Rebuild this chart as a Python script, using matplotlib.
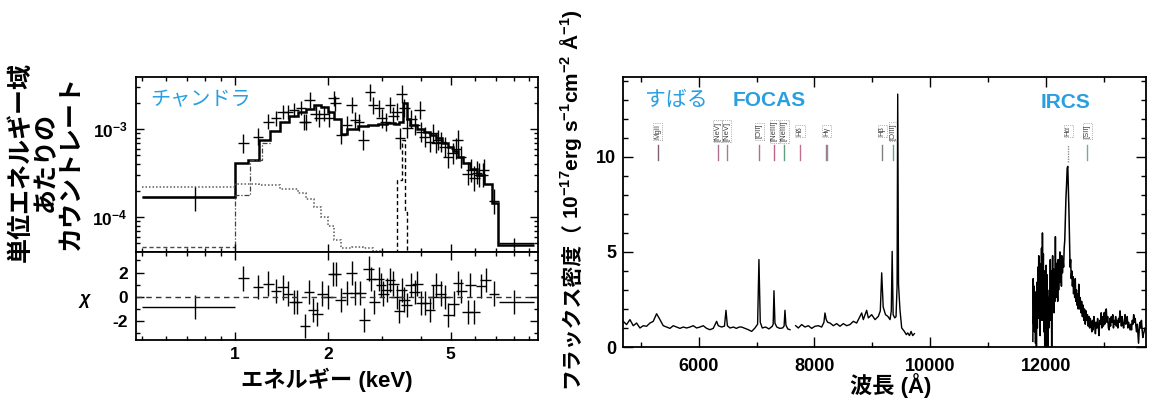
import numpy as np
import matplotlib
matplotlib.use('Agg')
import matplotlib.pyplot as plt
from matplotlib.ticker import FixedLocator, NullFormatter, MultipleLocator, LogLocator

plt.rcParams['font.family'] = ['Liberation Sans', 'Noto Sans CJK JP', 'DejaVu Sans']
plt.rcParams['font.weight'] = 'bold'
plt.rcParams['mathtext.fontset'] = 'custom'
plt.rcParams['mathtext.rm'] = 'Liberation Sans:bold'
plt.rcParams['mathtext.bf'] = 'Liberation Sans:bold'
plt.rcParams['mathtext.it'] = 'Liberation Sans:bold:italic'
plt.rcParams['axes.unicode_minus'] = False

BLUE = '#2a9fe0'

# --- X線スペクトル (チャンドラ) ---
e_data = [1.066, 1.186, 1.283, 1.358, 1.427, 1.488, 1.555, 1.635, 1.675, 1.695,
          1.746, 1.826, 1.872, 1.943, 2.016, 2.09, 2.118, 2.21, 2.31, 2.39,
          2.45, 2.52, 2.61, 2.74, 2.80, 2.93, 2.99, 3.08, 3.18, 3.26,
          3.34, 3.43, 3.47, 3.54, 3.62, 3.73, 3.82, 3.97, 4.02, 4.12,
          4.28, 4.39, 4.50, 4.55, 4.66, 4.78, 4.90, 5.08, 5.21, 5.27,
          5.40, 5.68, 5.84, 5.97, 6.1, 6.20, 6.35, 6.41, 6.9]
rate_data = [6.9e-4, 8.2e-4, 1.21e-3, 1.32e-3, 1.57e-3, 1.57e-3, 1.65e-3, 1.75e-3, 1.2e-3, 1.21e-3,
             2.14e-3, 1.5e-3, 1.32e-3, 1.5e-3, 1.32e-3, 2.23e-3, 1.96e-3, 8.55e-4, 1.11e-3, 1.87e-3,
             1.27e-3, 1.2e-3, 7.5e-4, 2.6e-3, 1.87e-3, 1.72e-3, 1.32e-3, 1.2e-3, 1.87e-3, 1.4e-3,
             1.57e-3, 7.8e-4, 2.5e-3, 1.72e-3, 1.02e-3, 1.3e-3, 1.1e-3, 1.64e-3, 9.3e-4, 8.2e-4,
             7.2e-4, 8.9e-4, 7e-4, 7.5e-4, 7.2e-4, 6.3e-4, 4.85e-4, 5.3e-4, 6.0e-4, 7.5e-4,
             4.85e-4, 3.1e-4, 3.4e-4, 2.75e-4, 3.2e-4, 3.0e-4, 3.0e-4, 3.4e-4, 1.5e-4]
rate_frac = [0.28, 0.26, 0.22, 0.22, 0.2, 0.2, 0.2, 0.2, 0.24, 0.24,
             0.22, 0.22, 0.24, 0.22, 0.24, 0.22, 0.22, 0.28, 0.25, 0.22,
             0.24, 0.25, 0.3, 0.25, 0.25, 0.25, 0.27, 0.28, 0.24, 0.26,
             0.25, 0.3, 0.28, 0.26, 0.3, 0.28, 0.3, 0.26, 0.3, 0.3,
             0.3, 0.28, 0.3, 0.3, 0.3, 0.3, 0.33, 0.32, 0.3, 0.3,
             0.33, 0.35, 0.35, 0.38, 0.35, 0.36, 0.36, 0.35, 0.4]

# 幅の広いビン (最初と最後)
wide_e = [0.745, 8.0]
wide_lo = [0.5, 7.2]
wide_hi = [1.0, 9.3]
wide_rate = [1.69e-4, 5.1e-5]
wide_rate_lo = [1.17e-4, 4.4e-5]
wide_rate_hi = [2.2e-4, 5.8e-5]
wide_chi = [-0.83, -0.41]

# モデル (全体)
model_edges = [0.5, 1.0, 1.1, 1.2, 1.3, 1.4, 1.5, 1.6, 1.7, 1.8, 1.9, 2.0, 2.1, 2.2, 2.3,
               2.5, 2.7, 2.9, 3.1, 3.3, 3.4, 3.5, 3.6, 3.7, 3.9, 4.1, 4.3, 4.5, 4.7,
               4.9, 5.1, 5.3, 5.5, 5.8, 6.1, 6.4, 6.8, 7.1, 9.3]
model_vals = [1.69e-4, 4.1e-4, 4.5e-4, 7.5e-4, 9.5e-4, 1.2e-3, 1.4e-3, 1.55e-3, 1.7e-3, 1.85e-3,
              1.8e-3, 1.55e-3, 1.3e-3, 8.8e-4, 1.0e-3, 1.08e-3, 1.12e-3, 1.15e-3, 1.17e-3, 1.15e-3,
              1.2e-3, 1.95e-3, 1.3e-3, 1.1e-3, 1.0e-3, 9.2e-4, 8.5e-4, 7.8e-4, 7.0e-4, 6.3e-4,
              5.6e-4, 4.8e-4, 4.1e-4, 3.5e-4, 3.0e-4, 2.4e-4, 1.45e-4, 4.8e-5]
# 軟成分 (点線)
soft_edges = [0.5, 1.0, 1.2, 1.4, 1.6, 1.7, 1.8, 1.9, 2.0, 2.1, 2.2, 2.4, 2.6, 2.8, 3.0]
soft_vals = [2.2e-4, 2.37e-4, 2.3e-4, 2.1e-4, 1.86e-4, 1.6e-4, 1.3e-4, 1.0e-4, 7.8e-5,
             5.5e-5, 4.4e-5, 4.6e-5, 4.4e-5, 4.1e-5]
# 硬成分 (一点鎖線)
hard_edges = [0.5, 1.0, 1.12, 1.22, 1.32]
hard_vals = [3e-5, 1.78e-4, 4.45e-4, 7e-4]
# 低いレベル (破線)
low_edges = [0.5, 1.0]
low_vals = [4.5e-5]
# 鉄輝線 (破線)
fe_edges = [3.1, 3.36, 3.47, 3.55, 3.62, 3.9]
fe_vals = [2e-5, 2.6e-4, 7.5e-4, 1.15e-4, 2e-5]

# 残差
e_chi = [1.066, 1.186, 1.283, 1.358, 1.427, 1.488, 1.555, 1.59, 1.686, 1.738,
         1.79, 1.85, 1.92, 2.0, 2.08, 2.12, 2.2, 2.31, 2.39, 2.45,
         2.55, 2.63, 2.71, 2.76, 2.83, 2.92, 2.97, 3.03, 3.10, 3.18,
         3.26, 3.34, 3.40, 3.47, 3.54, 3.60, 3.71, 3.82, 3.90, 4.02,
         4.14, 4.28, 4.39, 4.50, 4.64, 4.78, 4.92, 5.11, 5.29, 5.42,
         5.68, 5.8, 5.97, 6.27, 6.5, 6.9]
chi = [1.52, 0.83, 1.1, 0.5, 0.78, 0.28, -0.41, -0.41, -2.42, 0.41,
       -1.1, -1.38, 0.28, 0.0, 1.87, 1.87, -0.28, 0.33, 1.98, 0.33,
       0.33, -1.93, 2.34, 1.5, -0.41, 1.5, 0.96, 0.28, 0.55, 1.38,
       1.1, 0.0, -1.18, 0.55, -0.22, -0.69, 0.96, 0.41, 1.1, -0.5,
       -0.5, -1.05, 0.0, 0.96, 0.28, 0.0, -1.52, -0.55, 1.16, 0.5,
       -1.24, 0.96, -1.24, 0.88, 1.37, 0.27]

# --- 可視・近赤外スペクトル (すばる) ---
opt_wl = [4694, 4752, 4810, 4867, 4925, 4983, 5040, 5098, 5156, 5213,
          5271, 5329, 5386, 5444, 5502, 5559, 5617, 5675, 5732, 5790,
          5848, 5905, 5963, 6021, 6078, 6136, 6194, 6251, 6309, 6338,
          6396, 6445, 6471, 6495, 6540, 6600, 6650, 6700, 6742, 6799,
          6857, 6915, 6972, 7018, 7041, 7064, 7099, 7157, 7214, 7272,
          7287, 7301, 7318, 7350, 7400, 7450, 7476, 7491, 7508, 7540,
          7578, 7620, 7676, 7722, 7780, 7837, 7895, 7953, 8010, 8068,
          8126, 8165, 8183, 8205, 8229, 8270, 8328, 8385, 8443, 8500,
          8558, 8616, 8673, 8731, 8789, 8818, 8846, 8904, 8933, 8991,
          9049, 9106, 9140, 9164, 9190, 9230, 9270, 9308, 9330, 9345,
          9362, 9390, 9412, 9430, 9441, 9455, 9480, 9510, 9556, 9590,
          9614, 9645, 9672, 9700, 9729]
opt_flux = [1.35, 1.18, 1.44, 1.12, 1.26, 1.0, 1.12, 1.09, 1.26, 1.35,
            1.75, 1.44, 1.12, 1.05, 0.98, 1.12, 1.05, 0.98, 1.05, 1.0,
            1.05, 1.12, 1.0, 1.05, 1.12, 0.98, 0.91, 0.98, 1.35, 1.12,
            1.05, 1.1, 1.93, 1.12, 1.0, 1.05, 0.98, 1.05, 1.05, 0.98,
            0.91, 0.82, 1.0, 1.2, 4.6, 1.3, 1.0, 1.05, 0.95, 1.09,
            1.2, 2.96, 1.25, 1.05, 0.98, 1.0, 1.1, 1.93, 1.15, 0.95,
            0.91, np.nan, 1.12, 1.0, 1.18, 1.05, 1.12, 0.98, 1.09, 1.12,
            1.05, 1.3, 1.79, 1.44, 1.3, 1.26, 1.12, 1.23, 1.09, 1.23,
            1.12, 1.18, 1.35, 1.26, 1.61, 1.79, 1.44, 1.93, 1.53, 1.7,
            1.44, 1.61, 1.9, 3.9, 2.1, 1.7, 1.61, 1.44, 1.9, 5.03,
            1.7, 1.53, 1.6, 3.2, 13.3, 3.3, 1.96, 1.0, 0.82, 0.65,
            0.74, 0.6, 0.82, 0.6, 0.7]

ir_wl = [11778, 11785, 11792, 11800, 11808, 11816, 11824, 11832, 11840, 11848,
         11856, 11864, 11872, 11880, 11888, 11896, 11904, 11912, 11920, 11928,
         11936, 11944, 11952, 11960, 11968, 11976, 11984, 11992, 12000, 12008,
         12016, 12024, 12032, 12040, 12048, 12056, 12064, 12072, 12080, 12088,
         12096, 12104, 12112, 12120, 12128, 12136, 12144, 12152, 12160, 12168,
         12176, 12184, 12192, 12200, 12208, 12216, 12224, 12232, 12240, 12248,
         12256, 12264, 12272, 12280, 12290, 12300, 12310, 12320, 12330, 12340,
         12350, 12362, 12372, 12382, 12392, 12402, 12412, 12422, 12432, 12442,
         12452, 12462, 12472, 12482, 12492, 12502, 12512, 12522, 12532, 12542,
         12552, 12562, 12572, 12585, 12598, 12610, 12622, 12635, 12648, 12660,
         12672, 12685, 12698, 12710, 12722, 12735, 12748, 12760, 12772, 12785,
         12798, 12810, 12822, 12835, 12848, 12860, 12872, 12885, 12898, 12910,
         12922, 12935, 12948, 12960, 12972, 12985, 12998, 13010, 13022, 13035,
         13048, 13060, 13072, 13085, 13098, 13110, 13122, 13135, 13148, 13160,
         13172, 13185, 13198, 13210, 13222, 13235, 13248, 13260, 13272, 13285,
         13298, 13310, 13322, 13335, 13348, 13360, 13372, 13385, 13398, 13410,
         13422, 13435, 13448, 13460, 13472, 13485, 13498, 13510, 13522, 13535,
         13548, 13560, 13572, 13585, 13598, 13606, 13618, 13630, 13642, 13656,
         13668, 13680, 13692, 13720]
ir_flux = [0.3, 3.6, 1.2, 3.2, 0.8, 2.5, 0.2, 2.9, 0.0, 3.4,
           1.0, 4.2, 2.0, 4.8, 1.5, 4.4, 0.6, 3.8, 2.2, 5.2,
           1.4, 6.0, 2.5, 4.9, 0.8, 4.0, 0.0, 3.6, 1.2, 4.3,
           0.4, 3.8, 1.8, 0.0, 2.6, 1.0, 3.0, 1.6, 4.6, 1.4,
           4.0, 0.0, 3.2, 4.8, 2.2, 4.1, 1.8, 3.6, 2.4, 5.8,
           2.6, 4.4, 2.9, 4.0, 2.4, 4.6, 3.0, 4.2, 3.4, 5.0,
           3.6, 4.4, 3.2, 4.8, 3.9, 4.6, 4.2, 5.2, 5.6, 6.8,
           7.8, 8.6, 9.4, 9.5, 8.4, 7.2, 5.6, 4.2, 4.6, 3.6,
           4.0, 3.2, 3.7, 2.8, 3.4, 2.6, 3.6, 2.4, 3.0, 2.2,
           2.8, 2.0, 3.3, 2.0, 2.6, 1.8, 2.4, 1.6, 2.2, 1.4,
           2.0, 1.2, 1.9, 1.4, 1.7, 1.1, 1.6, 1.0, 1.5, 1.2,
           0.8, 1.4, 0.9, 1.6, 1.2, 0.7, 1.3, 1.0, 1.5, 1.1,
           0.6, 1.4, 1.2, 1.8, 1.0, 1.6, 1.1, 1.8, 1.2, 1.9,
           2.0, 1.3, 1.6, 1.0, 0.9, 1.5, 1.1, 1.6, 1.3, 1.7,
           1.0, 1.4, 1.2, 1.6, 1.1, 1.4, 1.0, 1.5, 1.3, 1.9,
           1.4, 1.1, 1.6, 1.2, 1.0, 1.3, 1.7, 1.2, 1.5, 1.6,
           1.0, 1.3, 1.1, 0.9, 1.2, 0.9, 1.4, 1.2, 1.7, 1.3,
           1.5, 1.1, 0.8, 1.2, 0.6, 0.2, 0.9, 1.3, 1.0, 1.4,
           0.9, 0.5, 0.7, 1.0]

# 輝線の位置
line_wl = [5289, 6327, 6483, 7048, 7307, 7480, 7751, 8200, 8223, 9175, 9366, 12392, 12721]
line_col = ['#806070', '#b07090', '#a08090', '#b07090', '#c06090', '#60a080', '#c07090',
            '#b07090', '#70a090', '#808080', '#70a090', '#909090', '#70b090']
label_wl = [5289, 6327, 6483, 7048, 7307, 7480, 7751, 8211, 9175, 9366, 12392, 12721]
label_txt = ['MgII', '[NeV]', '[NeV]', '[OII]', '[NeIII]', '[NeIII]', 'Hδ', 'Hγ',
             'Hβ', '[OIII]', 'Hα', '[SII]']

W, H = 1151, 399
fig = plt.figure(figsize=(W / 100, H / 100), dpi=100)


def px(x0, y0, x1, y1):
    return [x0 / W, 1 - y1 / H, (x1 - x0) / W, (y1 - y0) / H]


ax1 = fig.add_axes(px(136, 77, 538, 252))
ax2 = fig.add_axes(px(136, 252, 538, 340), sharex=ax1)
ax3 = fig.add_axes(px(623, 77, 1146, 347))

# 上段: カウントレート
e_arr = np.array(e_data)
r_arr = np.array(rate_data)
f_arr = np.array(rate_frac)
xlo = e_arr * (1 - 10 ** -0.017)
xhi = e_arr * (10 ** 0.017 - 1)
ax1.errorbar(e_arr, r_arr, xerr=[xlo, xhi], yerr=[r_arr - r_arr / (1 + f_arr), r_arr * f_arr],
             fmt='none', ecolor='black', elinewidth=1.0, capsize=0)
we = np.array(wide_e)
ax1.errorbar(we, wide_rate, xerr=[we - np.array(wide_lo), np.array(wide_hi) - we],
             yerr=[np.array(wide_rate) - np.array(wide_rate_lo), np.array(wide_rate_hi) - np.array(wide_rate)],
             fmt='none', ecolor='black', elinewidth=1.0, capsize=0)
ax1.stairs(model_vals, model_edges, baseline=None, color='black', lw=1.8)
ax1.stairs(soft_vals, soft_edges, baseline=None, color='0.35', lw=1.1, ls=(0, (1, 1.3)))
ax1.stairs(hard_vals, hard_edges, baseline=None, color='0.25', lw=0.9, ls=(0, (4, 1.5, 1, 1.5)))
ax1.stairs(low_vals, low_edges, baseline=None, color='0.3', lw=1.0, ls=(0, (3, 2)))
ax1.stairs(fe_vals, fe_edges, baseline=None, color='black', lw=1.0, ls=(0, (3, 2)))

ax1.set_xscale('log')
ax1.set_yscale('log')
ax1.set_xlim(0.478, 9.6)
ax1.set_ylim(4.0e-5, 3.9e-3)
ax1.set_yticks([1e-4, 1e-3])
ax1.set_yticklabels([r'$10^{-4}$', r'$10^{-3}$'])
ax1.yaxis.set_minor_locator(LogLocator(base=10, subs=np.arange(2, 10)))
ax1.yaxis.set_minor_formatter(NullFormatter())
plt.setp(ax1.get_xticklabels(which='both'), visible=False)

# 下段: 残差
ax2.errorbar(e_chi, chi, xerr=[np.array(e_chi) * (1 - 10 ** -0.017), np.array(e_chi) * (10 ** 0.017 - 1)],
             yerr=1.0, fmt='none', ecolor='black', elinewidth=1.0, capsize=0)
ax2.errorbar(we, wide_chi, xerr=[we - np.array(wide_lo), np.array(wide_hi) - we],
             yerr=1.0, fmt='none', ecolor='black', elinewidth=1.0, capsize=0)
ax2.axhline(0, color='0.2', lw=1.0, ls=(0, (4, 3)))
ax2.set_ylim(-3.55, 3.7)
ax2.set_yticks([-2, 0, 2])
ax2.yaxis.set_minor_locator(MultipleLocator(1))
ax2.xaxis.set_major_locator(FixedLocator([1, 2, 5]))
ax2.xaxis.set_minor_locator(FixedLocator([0.5, 0.6, 0.7, 0.8, 0.9, 3, 4, 6, 7, 8, 9]))
ax2.xaxis.set_minor_formatter(NullFormatter())
ax2.set_xticklabels(['1', '2', '5'])

for ax in (ax1, ax2):
    ax.tick_params(which='both', direction='in', top=True, right=True, width=1.0, labelsize=12.5)
    ax.tick_params(which='major', length=6)
    ax.tick_params(which='minor', length=3)
    ax.tick_params(axis='y', pad=6)
    ax.tick_params(axis='x', pad=5)
    for s in ax.spines.values():
        s.set_linewidth(1.3)

# 右: 波長スペクトル
ax3.plot(opt_wl, opt_flux, color='black', lw=1.0)
ax3.plot(ir_wl, ir_flux, color='black', lw=1.1)
for wl, c in zip(line_wl, line_col):
    ls = (0, (1, 0.8)) if wl == 12392 else '-'
    ax3.plot([wl, wl], [9.85, 10.6] if wl != 12392 else [9.75, 10.6], color=c, lw=1.0, ls=ls)
for wl, t in zip(label_wl, label_txt):
    ax3.text(wl, 11.35, t, rotation=90, ha='center', va='center', fontsize=5.5,
             color='0.25', fontweight='normal',
             bbox=dict(boxstyle='square,pad=0.15', fc='none', ec='0.45', lw=0.5, ls=':'))
ax3.set_xlim(4690, 13735)
ax3.set_ylim(0, 14.2)
ax3.set_xticks([6000, 8000, 10000, 12000])
ax3.xaxis.set_minor_locator(MultipleLocator(1000))
ax3.set_yticks([0, 5, 10])
ax3.yaxis.set_minor_locator(MultipleLocator(1))
ax3.tick_params(which='both', direction='in', top=True, right=True, width=1.0, labelsize=13)
ax3.tick_params(which='major', length=7)
ax3.tick_params(which='minor', length=3.5)
ax3.tick_params(axis='x', pad=8)
ax3.tick_params(axis='y', pad=5)
for s in ax3.spines.values():
    s.set_linewidth(1.3)

# 文字
fig.text(46 / W, 1 - 162 / H, '単位エネルギー域\nあたりの\nカウントレート', rotation=90,
         ha='center', va='center', multialignment='center', fontsize=18, linespacing=1.05)
fig.text(85 / W, 1 - 300 / H, 'χ', ha='center', va='center', fontsize=13, style='italic')
fig.text(327 / W, 1 - 380 / H, 'エネルギー (keV)', ha='center', va='center', fontsize=16)
fig.text(891 / W, 1 - 386 / H, '波長 (Å)', ha='center', va='center', fontsize=16)

# 右の縦軸ラベル: 日本語部分と数式部分を分けて描く
yl1 = fig.text(571 / W, 1 - 388 / H, 'フラックス密度（', rotation=90, rotation_mode='anchor',
               ha='left', va='center', fontsize=15)
fig.canvas.draw()
bb = yl1.get_window_extent()
fig.text(571 / W, (bb.y1 + 2) / H, '10$^{-17}$erg s$^{-1}$cm$^{-2}$ Å$^{-1}$)',
         rotation=90, rotation_mode='anchor', ha='left', va='center', fontsize=15)

fig.text(201 / W, 1 - 100 / H, 'チャンドラ', color=BLUE, ha='center', va='center',
         fontsize=14.5, fontweight='normal')
fig.text(676 / W, 1 - 100 / H, 'すばる', color=BLUE, ha='center', va='center',
         fontsize=15, fontweight='normal')
fig.text(769 / W, 1 - 100 / H, 'FOCAS', color=BLUE, ha='center', va='center', fontsize=15)
fig.text(1066 / W, 1 - 102 / H, 'IRCS', color=BLUE, ha='center', va='center', fontsize=15)

fig.savefig('out.png', dpi=100)
